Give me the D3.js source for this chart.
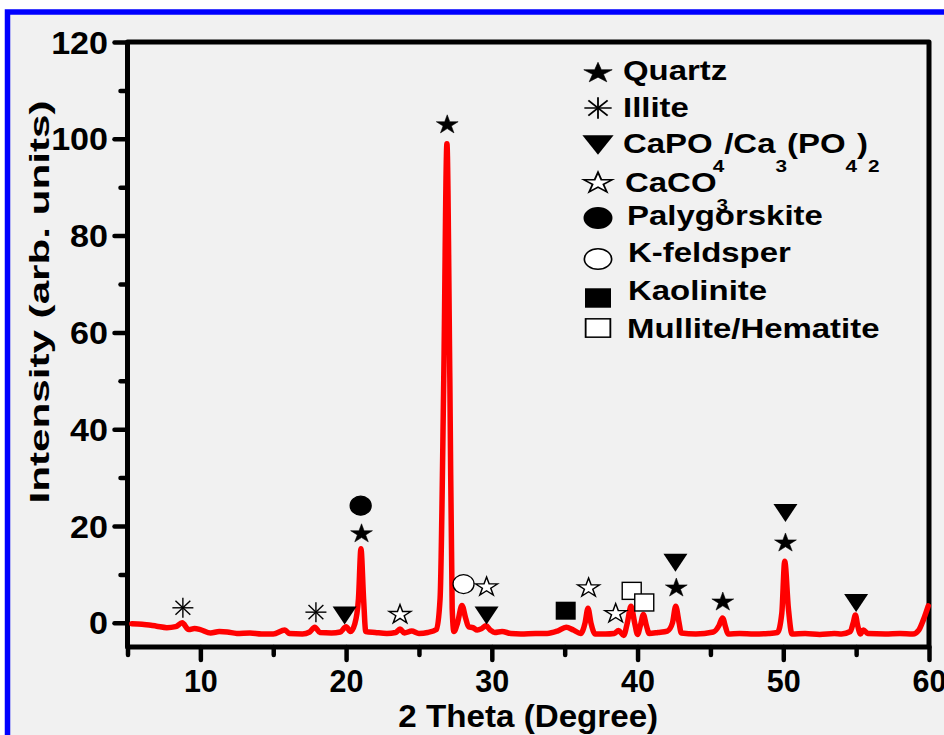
<!DOCTYPE html>
<html>
<head>
<meta charset="utf-8">
<script src="https://cdn.jsdelivr.net/npm/d3@7"></script>
<style>
  body { margin: 0; background: #fff; }
  svg { display: block; font-family: "Liberation Sans", Arial, sans-serif; font-weight: bold; }
</style>
</head>
<body>
<div class="xrd-graphic"></div>
<script>

////////// DATA //////////

// XRD pattern
const twoTheta = [5.3, 6.0, 7.0, 7.7, 8.3, 8.75, 9.2, 9.6, 10.0, 10.7, 11.3, 11.85, 12.5, 13.4, 14.2, 15.0, 15.8, 16.1,
  17.0, 17.5, 17.85, 18.2, 19.0, 19.6, 20.0, 20.3, 20.6, 20.85, 21.02, 21.2, 21.35, 22.0, 22.8, 23.4, 23.7, 24.0,
  24.5, 25.0, 25.6, 26.2, 26.45, 26.7, 26.92, 27.12, 27.28, 27.4, 27.65, 27.95, 28.2, 28.4, 28.7, 29.0, 29.3, 29.6,
  29.9, 30.2, 30.7, 31.3, 32.0, 33.0, 33.8, 34.5, 35.1, 35.6, 36.1, 36.4, 36.6, 36.8, 37.1, 37.8, 38.4, 38.7, 39.05,
  39.3, 39.55, 39.8, 40.0, 40.2, 40.4, 40.6, 40.8, 41.4, 42.05, 42.4, 42.62, 42.85, 43.0, 44.0, 45.2, 45.6, 45.83,
  46.05, 46.2, 47.0, 48.0, 49.0, 49.6, 49.9, 50.1, 50.35, 50.6, 51.5, 52.5, 53.5, 54.0, 54.6, 54.8, 54.95, 55.1,
  55.3, 55.5, 55.8, 57.0, 58.0, 58.9, 59.3, 59.6, 59.95];
const intensity = [-0.2, -0.3, -0.7, -1.0, -0.8, 0.0, -1.4, -1.2, -1.4, -2.1, -1.8, -1.9, -2.2, -2.1, -2.3, -2.3, -1.5, -2.2,
  -2.3, -1.9, -0.9, -2.0, -2.1, -1.9, -0.8, -1.8, -0.2, 5, 15.3, 5, -1.8, -2.0, -2.2, -2.0, -1.3, -2.1,
  -1.7, -2.2, -2.0, -1.4, 5, 50, 99, 50, 3, -1.8, 0, 3.6, 1.0, -0.8, -1.0, -1.5, -1.2, -0.6,
  -1.5, -2.0, -1.8, -2.2, -2.3, -2.2, -2.2, -1.7, -0.9, -1.5, -2.2, 0, 3.0, 0, -2.3, -2.3, -2.2, -1.6, -2.6,
  0, 3.4, 0, -2.4, -0.5, 1.7, -0.5, -2.2, -2.0, -1.7, 0, 3.4, 0, -2.1, -2.3, -1.9, -0.5, 1.0,
  -1.0, -2.3, -2.2, -2.3, -2.2, -2.0, 2, 12.7, 3, -2.3, -2.2, -2.4, -2.2, -2.3, -1.8, 0, 1.6, -0.5,
  -2.3, -1.5, -2.2, -2.3, -2.2, -2.3, -1.5, 0.5, 3.5];

// phase markers over the peaks
const markerTheta = [8.8, 17.93, 19.9, 23.7, 21.06, 21.0, 26.94, 28.06, 29.64, 29.64, 35.07, 36.64, 38.5, 39.6, 40.46,
  42.66, 42.6, 45.85, 50.15, 50.15, 55.0];
const markerIntensity = [3.1, 2.2, 1.5, 1.9, 18.6, 24.2, 103.1, 8.0, 7.6, 1.5, 2.5, 7.4, 2.1, 6.6, 4.2,
  7.4, 12.4, 4.5, 16.7, 22.7, 4.1];
const markerPhase = ["illite", "illite", "capo", "caco", "quartz", "paly", "quartz", "kfeld", "caco", "capo", "kaol",
  "caco", "caco", "mull", "mull", "quartz", "capo", "quartz", "quartz", "capo", "capo"];

// legend
const legendPhases = ["quartz", "illite", "capo", "caco", "paly", "kfeld", "kaol", "mull"];
const legendLabels = ["Quartz", "Illite", "CaPO_4/Ca_3(PO_4)_2", "CaCO_3", "Palygorskite", "K-feldsper", "Kaolinite", "Mullite/Hematite"];

const xTicks = [10, 20, 30, 40, 50, 60];
const xMinorTicks = [5, 15, 25, 35, 45, 55];
const yTicks = [0, 20, 40, 60, 80, 100, 120];
const yMinorTicks = [10, 30, 50, 70, 90, 110];

const xTitle = "2 Theta (Degree)";
const yTitle = "Intensity (arb. units)";


////////// SETUP //////////

const W = 944, H = 735;
const plot = { left: 127.5, right: 929, top: 42, bottom: 647 };

let svg = d3.select(".xrd-graphic")
  .append("svg")
  .attr("width", W)
  .attr("height", H);

// grey page with the blue frame (right and bottom edges run off the page)
svg.append("rect")
  .attr("x", 7.5).attr("y", 12)
  .attr("width", 1000).attr("height", 800)
  .attr("fill", "#f1f1f1")
  .attr("stroke", "#0000ff")
  .attr("stroke-width", 5.5);

let x = d3.scaleLinear().domain([5, 60]).range([plot.left, plot.right]);
let y = d3.scaleLinear().domain([-5, 120]).range([plot.bottom, plot.top]);


////////// AXES //////////

function styleAxis(g) {
  g.select(".domain").remove();
  g.selectAll(".tick line")
    .attr("stroke", "#000")
    .attr("stroke-width", 4.5)
    .attr("stroke-linecap", "round");
}

svg.append("g")
  .attr("transform", "translate(0," + plot.bottom + ")")
  .call(d3.axisBottom(x).tickValues(xMinorTicks).tickSize(8).tickFormat(""))
  .call(styleAxis);

let xAxis = svg.append("g")
  .attr("transform", "translate(0," + plot.bottom + ")")
  .call(d3.axisBottom(x).tickValues(xTicks).tickSize(13).tickFormat(d3.format("d")))
  .call(styleAxis);

xAxis.selectAll(".tick text")
  .attr("y", 45).attr("dy", 0)
  .attr("fill", "#000")
  .style("font-size", "30.5px")
  .style("font-family", "Liberation Sans, Arial, sans-serif")
  .style("font-weight", "bold");

svg.append("g")
  .attr("transform", "translate(" + plot.left + ",0)")
  .call(d3.axisLeft(y).tickValues(yMinorTicks).tickSize(7).tickFormat(""))
  .call(styleAxis);

let yAxis = svg.append("g")
  .attr("transform", "translate(" + plot.left + ",0)")
  .call(d3.axisLeft(y).tickValues(yTicks).tickSize(13).tickFormat(d3.format("d")))
  .call(styleAxis);

yAxis.selectAll(".tick text")
  .attr("x", -17.7).attr("dy", "0.36em")
  .attr("transform", "scale(1.1,1)")
  .attr("fill", "#000")
  .style("font-size", "31px")
  .style("font-family", "Liberation Sans, Arial, sans-serif")
  .style("font-weight", "bold");

// frame around the plot
svg.append("rect")
  .attr("x", plot.left).attr("y", plot.top)
  .attr("width", plot.right - plot.left)
  .attr("height", plot.bottom - plot.top)
  .attr("fill", "none")
  .attr("stroke", "#000")
  .attr("stroke-width", 5)
  .attr("stroke-linejoin", "round");

svg.append("text")
  .attr("transform", "translate(" + ((plot.left + plot.right) / 2) + ",727) scale(1.07,1)")
  .attr("text-anchor", "middle")
  .style("font-size", "31px")
  .text(xTitle);

svg.append("text")
  .attr("transform", "translate(49,302) rotate(-90) scale(1.48,1)")
  .attr("text-anchor", "middle")
  .style("font-size", "28.5px")
  .text(yTitle);


////////// PATTERN //////////

let pattern = twoTheta.map((t, i) => ({ t: t, v: intensity[i] }));

let line = d3.line()
  .x(d => x(d.t))
  .y(d => y(d.v))
  .curve(d3.curveMonotoneX);

svg.append("path")
  .datum(pattern)
  .attr("d", line)
  .attr("fill", "none")
  .attr("stroke", "#ff0000")
  .attr("stroke-width", 5.5)
  .attr("stroke-linejoin", "round")
  .attr("stroke-linecap", "round");


////////// MARKERS //////////

const starPath = d3.symbol().type(d3.symbolStar).size(112)();

// draws one phase marker into g, k is a size factor
function drawMarker(g, phase, k) {
  let s = g.append("g").attr("transform", "scale(" + k + ")");
  if (phase == "quartz" || phase == "caco") {
    s.append("path")
      .attr("d", starPath)
      .attr("transform", "translate(0,1) scale(1.15,1)")
      .attr("fill", phase == "quartz" ? "#000" : "#fff")
      .attr("stroke", "#000")
      .attr("stroke-width", phase == "quartz" ? 0.5 : 1.3);
  } else if (phase == "illite") {
    [0, 45, 90, 135].forEach(a => {
      let r = a * Math.PI / 180;
      s.append("line")
        .attr("x1", -10.5 * Math.cos(r)).attr("y1", -10 * Math.sin(r))
        .attr("x2", 10.5 * Math.cos(r)).attr("y2", 10 * Math.sin(r))
        .attr("stroke", "#000")
        .attr("stroke-width", 1.4);
    });
  } else if (phase == "capo") {
    s.append("path")
      .attr("d", "M-12,-9L12,-9L0,9Z")
      .attr("fill", "#000");
  } else if (phase == "paly" || phase == "kfeld") {
    s.append("ellipse")
      .attr("rx", 10.5).attr("ry", 9.5)
      .attr("fill", phase == "paly" ? "#000" : "#fff")
      .attr("stroke", "#000")
      .attr("stroke-width", 1.3);
  } else if (phase == "kaol") {
    s.append("rect")
      .attr("x", -10).attr("y", -9).attr("width", 20).attr("height", 18)
      .attr("fill", "#000");
  } else if (phase == "mull") {
    s.append("rect")
      .attr("x", -9.5).attr("y", -8.5).attr("width", 19).attr("height", 17)
      .attr("fill", "#fff")
      .attr("stroke", "#000")
      .attr("stroke-width", 1.4);
  }
}

let markers = svg.append("g").attr("class", "markers");

markerTheta.forEach((t, i) => {
  let g = markers.append("g")
    .attr("transform", "translate(" + x(t) + "," + y(markerIntensity[i]) + ")");
  drawMarker(g, markerPhase[i], 1);
});


////////// LEGEND //////////

const legendMarkerY = [72, 108, 145, 182, 218, 259, 298, 328];
const legendTextY = [80, 117, 153, 192, 225, 262, 300, 338];
const legendTextX = [623, 623, 623, 625, 627, 628, 628, 627];

let legend = svg.append("g").attr("class", "legend");

legendPhases.forEach((p, i) => {
  let g = legend.append("g")
    .attr("transform", "translate(598," + legendMarkerY[i] + ") scale(1.3,1.08)");
  drawMarker(g, p, 1);

  let txt = legend.append("text")
    .attr("transform", "translate(" + legendTextX[i] + "," + legendTextY[i] + ") scale(1.22,1)")
    .style("font-size", "27px");

  // "_x" means subscript x
  let parts = legendLabels[i].split(/(_\d)/).filter(s => s.length);
  let shifted = false;
  parts.forEach(s => {
    if (s[0] == "_") {
      txt.append("tspan").attr("dy", 19).style("font-size", "17px").text(s.slice(1));
      shifted = true;
    } else {
      txt.append("tspan").attr("dy", shifted ? -19 : 0).text(s);
      shifted = false;
    }
  });
});

</script>
</body>
</html>
